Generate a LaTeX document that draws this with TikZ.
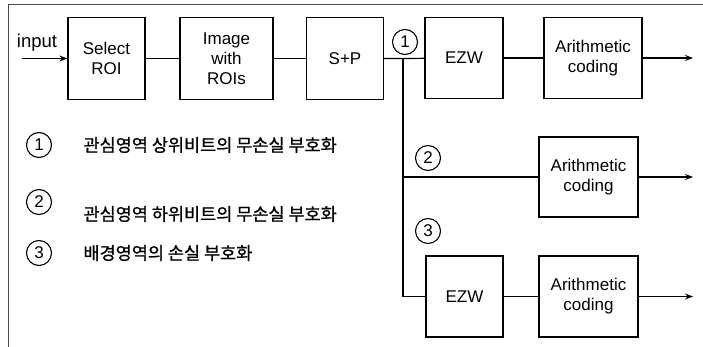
\documentclass[tikz,border=0pt]{standalone}
\usepackage{fontspec}
\setmainfont{Liberation Sans}
\newfontfamily\kr[FakeBold=1]{Noto Sans CJK KR}
\usetikzlibrary{arrows.meta}

\tikzset{
  blk/.style={draw, line width=1.2pt, align=center, inner sep=0pt,
    font=\fontsize{17}{20}\selectfont},
  num/.style={draw, circle, line width=1.1pt, minimum size=25pt, inner sep=0pt,
    font=\fontsize{17}{17}\selectfont},
  wire/.style={line width=1.2pt},
  arr/.style={line width=1.2pt, -{Stealth[length=8pt,width=6pt]}},
  legend/.style={anchor=west, font=\kr\fontsize{17.5}{17.5}\selectfont},
}

\begin{document}
\begin{tikzpicture}[x=1pt, y=-1pt]
    \useasboundingbox (0,0) rectangle (703,347);
    % frame
    \coordinate (fr1) at (703,5);
    \coordinate (fr2) at (8,5);
    \coordinate (fr3) at (8,347);
    \draw[line width=1pt, black!70] (fr1)--(fr2)--(fr3);

    % top chain
    \node[blk, minimum width=77pt, minimum height=82pt] (sel) at (106.5,58.5) {Select\\ROI};
    \node[blk, minimum width=93pt, minimum height=82pt] (img) at (226.5,58.5) {Image\\with\\ROIs};
    \node[blk, minimum width=77pt, minimum height=82pt] (sp) at (345,58.5) {S+P};
    \node[blk, minimum width=78pt, minimum height=81pt] (ezwa) at (464,58) {EZW};
    \node[blk, minimum width=98pt, minimum height=81pt] (aria) at (593,58) {Arithmetic\\coding};

    % lower branches
    \node[blk, minimum width=99pt, minimum height=80pt] (arib) at (588.5,177) {Arithmetic\\coding};
    \node[blk, minimum width=77pt, minimum height=81pt] (ezwc) at (464.5,296.5) {EZW};
    \node[blk, minimum width=99pt, minimum height=81pt] (aric) at (588.5,296.5) {Arithmetic\\coding};

    \coordinate (in) at (22,58.5);
    \coordinate (ja) at (403,58.5);
    \coordinate (jb) at (403,177);
    \coordinate (jc) at (403,296.5);
    \coordinate (oa) at (693,58);
    \coordinate (ob) at (693,177);
    \coordinate (oc) at (693,296.5);

    \draw[arr] (in) -- (sel);
    \draw[wire] (sel) -- (img);
    \draw[wire] (img) -- (sp);
    \draw[wire] (sp) -- (ja) -- (ezwa);
    \draw[wire] (ezwa) -- (aria);
    \draw[arr] (aria) -- (oa);
    \draw[wire] (ja) -- (jc) -- (ezwc);
    \draw[wire] (jb) -- (arib);
    \draw[arr] (arib) -- (ob);
    \draw[wire] (ezwc) -- (aric);
    \draw[arr] (aric) -- (oc);

    \node at (37,43) (inp) {\fontsize{18.5}{18.5}\selectfont input};

    % branch marks
    \node[num] (ma) at (405,42) {1};
    \node[num] (mb) at (428,158) {2};
    \node[num] (mc) at (428,231) {3};

    % legend
    \node[num] (la) at (39,145) {1};
    \node[num] (lb) at (39,202) {2};
    \node[num] (lc) at (39,253) {3};
    \node[legend] (ta) at (80,145) {관심영역 상위비트의 무손실 부호화};
    \node[legend] (tb) at (80,214) {관심영역 하위비트의 무손실 부호화};
    \node[legend] (tc) at (80,253) {배경영역의 손실 부호화};
\end{tikzpicture}
\end{document}
